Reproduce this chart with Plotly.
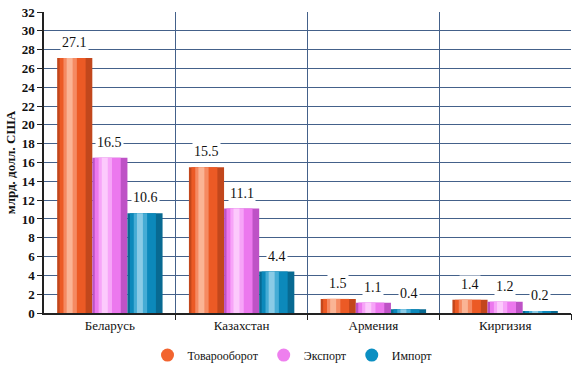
import plotly.graph_objects as go

categories = ["Беларусь", "Казахстан", "Армения", "Киргизия"]
turnover = [27.1, 15.5, 1.5, 1.4]
export = [16.5, 11.1, 1.1, 1.2]
imports = [10.6, 4.4, 0.4, 0.2]
series_names = ["Товарооборот", "Экспорт", "Импорт"]
y_ticks = list(range(0, 33, 2))

series = [turnover, export, imports]
palettes = [
    ["#C2471C", "#EC5A25", "#F58A62", "#FAB495"],
    ["#BE52C6", "#EC78EE", "#F7A4F8", "#FCCAFC"],
    ["#086A92", "#0C89BB", "#45ACD5", "#8ACBE6"],
]
legend_colors = ["#F2642F", "#EE7FEE", "#0B8FC2"]
layers = [(0.0, 1.0), (0.07, 0.74), (0.18, 0.38), (0.27, 0.17)]

FONT = "Liberation Serif"

group_w = 0.8
bw = group_w / 3
xs = list(range(len(categories)))

fig = go.Figure()
for i, vals in enumerate(series):
    base_off = -group_w / 2 + i * bw
    for li, (fs, fw) in enumerate(layers):
        fig.add_trace(go.Bar(
            x=xs, y=vals, width=bw * fw, offset=base_off + bw * fs,
            marker=dict(color=palettes[i][li], line=dict(width=0)),
            showlegend=False, hoverinfo="skip",
        ))

for i, name in enumerate(series_names):
    fig.add_trace(go.Scatter(
        x=[None], y=[None], mode="markers", name=name,
        marker=dict(symbol="circle", size=13, color=legend_colors[i]),
    ))

for i, vals in enumerate(series):
    center_off = -group_w / 2 + i * bw + bw / 2
    for j, v in enumerate(vals):
        fig.add_annotation(
            x=j + center_off, y=v, text=f"{v:.1f}", showarrow=False,
            yanchor="bottom", yshift=6, bgcolor="white", borderpad=1,
            font=dict(family=FONT, size=14, color="#111"),
        )

grid_c = "#44618A"
fig.update_layout(
    width=585, height=368,
    margin=dict(l=44, r=14, t=12, b=55, autoexpand=False),
    paper_bgcolor="white", plot_bgcolor="white",
    barmode="overlay",
    font=dict(family=FONT, size=13, color="#111"),
    xaxis=dict(
        range=[-0.5, 3.5], tickvals=xs, ticktext=categories,
        showgrid=False, showline=True, linecolor="#222", linewidth=1.5,
        ticks="", zeroline=False, fixedrange=True, automargin=False,
        tickfont=dict(family=FONT, size=13),
    ),
    xaxis2=dict(
        range=[-0.5, 3.5], overlaying="x", matches="x",
        tickvals=[0.5, 1.5, 2.5, 3.5], showticklabels=False,
        showgrid=True, gridcolor=grid_c, gridwidth=1,
        ticks="outside", ticklen=6, tickcolor="#222", side="bottom",
        zeroline=False, showline=False, automargin=False,
    ),
    yaxis=dict(
        range=[0, 32], tickvals=y_ticks, showgrid=True, gridcolor=grid_c,
        gridwidth=1, showline=True, linecolor="#222", linewidth=1.5,
        ticks="outside", ticklen=5, tickcolor="#222", zeroline=False,
        automargin=False,
        tickfont=dict(family=FONT, size=13, weight="bold"),
        title=dict(text="млрд. долл. США", standoff=3,
                   font=dict(family=FONT, size=13, weight="bold")),
    ),
    legend=dict(
        orientation="h", x=0.5, xanchor="center", xref="container",
        y=0.035, yanchor="middle", yref="container",
        font=dict(family=FONT, size=12),
        itemwidth=30, tracegroupgap=0,
    ),
)
fig.add_trace(go.Scatter(x=[None], y=[None], xaxis="x2", showlegend=False, hoverinfo="skip"))

fig.write_html("out.html", config={"displayModeBar": False},
               post_script="document.body.style.margin='0';")
